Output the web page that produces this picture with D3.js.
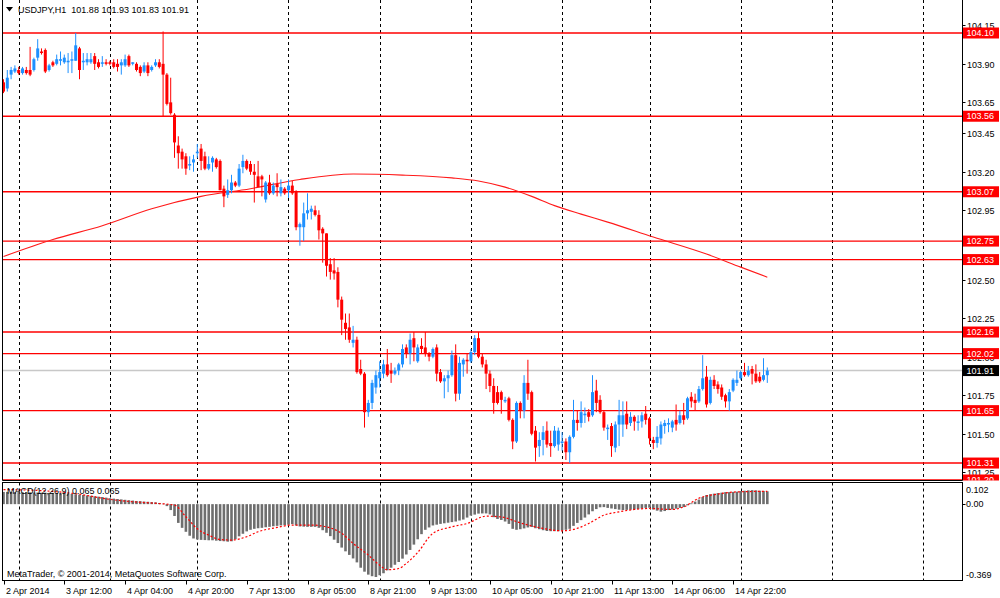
<!DOCTYPE html>
<html><head><meta charset="utf-8">
<script src="https://cdn.jsdelivr.net/npm/d3@7"></script>
<style>
body{margin:0;background:#fff}
svg{display:block}
text{font-family:"Liberation Sans",Arial,sans-serif;font-size:9px}
</style>
</head><body>
<svg id="c" width="1000" height="598"></svg>
<script>
// ---- data ----
const header = "USDJPY,H1  101.88 101.93 101.83 101.91";
const macdTitle = "MACD(12,26,9) 0.065 0.065";
const copyright = "MetaTrader, \u00A9 2001-2014, MetaQuotes Software Corp.";

// [open, high, low, close] per H1 bar
const candles = [
[103.78,103.80,103.71,103.72],[103.74,103.86,103.72,103.81],[103.83,103.88,103.80,103.86],[103.85,103.89,103.84,103.87],
[103.86,103.88,103.83,103.84],[103.84,103.88,103.83,103.87],[103.86,103.88,103.83,103.84],[103.86,104.01,103.82,103.83],
[103.86,103.94,103.85,103.93],[103.94,104.06,103.92,104.00],[103.98,104.00,103.96,103.97],[103.99,104.00,103.84,103.85],
[103.86,103.90,103.85,103.89],[103.91,103.92,103.88,103.89],[103.90,103.96,103.89,103.93],[103.92,103.98,103.89,103.93],
[103.91,103.96,103.90,103.94],[103.91,103.97,103.84,103.92],[103.92,103.98,103.84,103.93],[103.92,104.10,103.92,104.02],
[104.00,104.01,103.80,103.86],[103.91,103.97,103.86,103.92],[103.91,103.97,103.89,103.93],[103.91,103.97,103.90,103.93],
[103.95,103.97,103.86,103.90],[103.91,103.93,103.87,103.88],[103.90,103.95,103.88,103.91],[103.91,103.93,103.89,103.90],
[103.91,103.92,103.89,103.90],[103.91,103.93,103.87,103.88],[103.90,103.93,103.85,103.88],[103.89,103.93,103.83,103.91],
[103.89,103.96,103.88,103.93],[103.95,103.96,103.88,103.89],[103.90,103.91,103.89,103.91],[103.90,103.91,103.85,103.86],
[103.88,103.89,103.82,103.84],[103.85,103.91,103.84,103.89],[103.89,103.91,103.82,103.84],[103.86,103.89,103.85,103.88],
[103.89,103.93,103.88,103.91],[103.91,103.93,103.87,103.88],[103.90,104.11,103.56,103.83],[103.83,103.84,103.63,103.64],
[103.65,103.81,103.57,103.58],[103.57,103.58,103.29,103.39],[103.37,103.43,103.22,103.32],[103.33,103.35,103.22,103.28],
[103.30,103.32,103.18,103.22],[103.24,103.30,103.21,103.25],[103.26,103.31,103.20,103.28],[103.32,103.38,103.29,103.33],
[103.35,103.38,103.21,103.27],[103.30,103.33,103.21,103.22],[103.22,103.30,103.21,103.25],[103.26,103.30,103.20,103.29],
[103.28,103.29,103.22,103.23],[103.27,103.28,103.08,103.08],[103.09,103.11,102.97,103.04],[103.05,103.15,103.03,103.08],
[103.08,103.18,103.06,103.13],[103.13,103.14,103.10,103.11],[103.11,103.25,103.10,103.22],[103.23,103.31,103.19,103.27],
[103.27,103.28,103.21,103.22],[103.25,103.27,103.18,103.20],[103.20,103.25,103.00,103.18],[103.17,103.27,103.10,103.10],
[103.17,103.18,103.04,103.15],[103.02,103.14,103.00,103.13],[103.13,103.18,103.05,103.06],[103.06,103.13,103.05,103.11],
[103.12,103.19,103.04,103.10],[103.06,103.15,103.04,103.10],[103.09,103.10,103.05,103.06],[103.08,103.15,103.03,103.11],
[103.11,103.14,103.05,103.06],[103.07,103.08,102.82,102.84],[102.84,102.87,102.72,102.86],[102.84,103.00,102.75,102.93],
[102.93,103.06,102.89,102.95],[102.94,102.98,102.89,102.96],[102.95,102.98,102.91,102.92],[102.92,102.95,102.76,102.82],
[102.83,102.84,102.61,102.80],[102.80,102.80,102.52,102.59],[102.60,102.64,102.50,102.55],[102.56,102.64,102.50,102.54],
[102.55,102.58,102.32,102.37],[102.37,102.39,102.14,102.24],[102.22,102.28,102.11,102.18],[102.19,102.28,102.09,102.11],
[102.09,102.20,102.06,102.11],[102.11,102.13,101.89,101.90],[101.92,101.98,101.88,101.89],[101.89,101.90,101.54,101.64],
[101.64,101.72,101.61,101.70],[101.70,101.85,101.66,101.83],[101.80,101.91,101.76,101.88],[101.86,101.97,101.80,101.90],
[101.89,101.98,101.86,101.95],[101.95,102.05,101.87,101.88],[101.91,101.96,101.83,101.89],[101.89,101.93,101.88,101.91],
[101.91,101.96,101.88,101.95],[101.95,102.08,101.93,102.05],[102.06,102.08,101.99,102.02],[102.02,102.15,101.95,102.11],
[102.12,102.16,101.97,102.06],[101.97,102.08,101.96,102.06],[102.07,102.12,102.02,102.05],[102.06,102.16,102.00,102.02],
[102.02,102.03,101.97,102.00],[102.00,102.06,101.99,102.05],[102.06,102.08,101.84,101.89],[101.90,101.92,101.83,101.84],
[101.84,101.88,101.73,101.86],[101.86,101.91,101.77,101.88],[101.88,102.04,101.87,102.01],[102.01,102.08,101.71,101.76],
[101.76,102.00,101.72,101.96],[101.95,101.99,101.87,101.98],[101.98,102.02,101.89,101.97],[101.97,102.05,101.96,102.03],
[102.03,102.14,102.01,102.12],[102.12,102.16,101.99,102.00],[102.00,102.02,101.93,101.95],[101.95,101.98,101.79,101.89],
[101.89,101.91,101.77,101.81],[101.81,101.86,101.63,101.70],[101.77,101.81,101.69,101.70],[101.77,101.78,101.63,101.72],
[101.71,101.74,101.70,101.72],[101.73,101.74,101.58,101.59],[101.59,101.60,101.40,101.45],[101.45,101.71,101.44,101.70],
[101.70,101.71,101.60,101.65],[101.65,101.88,101.60,101.83],[101.83,101.98,101.72,101.76],[101.77,101.78,101.49,101.50],
[101.52,101.55,101.32,101.41],[101.42,101.51,101.35,101.46],[101.46,101.55,101.36,101.51],[101.52,101.58,101.41,101.43],
[101.44,101.52,101.35,101.42],[101.42,101.55,101.41,101.52],[101.43,101.54,101.39,101.52],[101.44,101.51,101.39,101.45],
[101.45,101.47,101.33,101.38],[101.38,101.49,101.31,101.48],[101.48,101.72,101.47,101.59],[101.59,101.65,101.52,101.57],
[101.57,101.71,101.54,101.64],[101.62,101.67,101.57,101.63],[101.64,101.66,101.58,101.61],[101.62,101.88,101.61,101.77],
[101.78,101.85,101.64,101.70],[101.72,101.75,101.63,101.64],[101.64,101.65,101.52,101.54],[101.53,101.56,101.46,101.54],
[101.55,101.57,101.35,101.42],[101.41,101.58,101.38,101.56],[101.56,101.72,101.42,101.62],[101.56,101.71,101.48,101.62],
[101.63,101.71,101.53,101.56],[101.57,101.64,101.55,101.61],[101.61,101.62,101.52,101.58],[101.57,101.62,101.52,101.58],
[101.58,101.64,101.54,101.62],[101.63,101.68,101.56,101.59],[101.60,101.61,101.43,101.47],[101.46,101.48,101.40,101.44],
[101.44,101.55,101.41,101.48],[101.47,101.58,101.43,101.56],[101.55,101.59,101.50,101.57],[101.56,101.60,101.51,101.57],
[101.54,101.59,101.51,101.58],[101.59,101.69,101.52,101.56],[101.57,101.65,101.56,101.62],[101.62,101.70,101.56,101.59],
[101.60,101.74,101.59,101.73],[101.74,101.77,101.67,101.71],[101.72,101.76,101.65,101.70],[101.71,101.81,101.70,101.79],
[101.79,102.01,101.78,101.86],[101.87,101.94,101.67,101.69],[101.70,101.87,101.69,101.85],[101.85,101.88,101.79,101.81],
[101.82,101.84,101.76,101.79],[101.80,101.82,101.72,101.74],[101.75,101.76,101.67,101.71],[101.71,101.79,101.65,101.77],
[101.78,101.86,101.77,101.85],[101.83,101.91,101.81,101.85],[101.86,101.91,101.85,101.90],[101.90,101.96,101.87,101.88],
[101.88,101.94,101.87,101.91],[101.92,101.94,101.82,101.89],[101.89,101.95,101.83,101.84],[101.87,101.90,101.83,101.84],
[101.85,101.99,101.84,101.88],[101.88,101.93,101.83,101.91]
];

// moving average readings [bar index, price]
const maPoints = [
[0,102.65],[13,102.76],[26,102.85],[39,102.96],[52,103.04],[65,103.09],[78,103.15],[92,103.185],
[105,103.178],[118,103.16],[125,103.14],[132,103.10],[139,103.04],[145,102.98],[152,102.925],
[159,102.873],[171,102.776],[185,102.666],[194,102.581],[201,102.516]
];

// MACD histogram, one value per bar
const macdHist = [
0.062,0.062,0.061,0.061,0.061,0.060,0.060,0.060,0.059,0.059,
0.058,0.058,0.057,0.057,0.056,0.055,0.055,0.054,0.052,0.050,
0.048,0.046,0.044,0.042,0.040,0.038,0.036,0.033,0.030,0.028,
0.026,0.024,0.022,0.020,0.018,0.016,0.015,0.013,0.012,0.010,
0.009,0.006,0.002,-0.010,-0.030,-0.060,-0.095,-0.120,-0.140,-0.160,
-0.174,-0.179,-0.181,-0.182,-0.183,-0.183,-0.185,-0.187,-0.188,-0.190,
-0.188,-0.178,-0.163,-0.150,-0.138,-0.130,-0.125,-0.122,-0.120,-0.117,
-0.115,-0.112,-0.110,-0.108,-0.106,-0.104,-0.101,-0.108,-0.113,-0.114,
-0.115,-0.115,-0.115,-0.120,-0.132,-0.145,-0.162,-0.180,-0.197,-0.220,
-0.239,-0.257,-0.275,-0.295,-0.322,-0.342,-0.357,-0.365,-0.369,-0.360,
-0.350,-0.335,-0.322,-0.307,-0.293,-0.276,-0.255,-0.232,-0.205,-0.178,
-0.152,-0.130,-0.118,-0.108,-0.104,-0.100,-0.097,-0.094,-0.091,-0.088,
-0.083,-0.078,-0.068,-0.058,-0.053,-0.048,-0.047,-0.047,-0.052,-0.066,
-0.075,-0.080,-0.088,-0.100,-0.125,-0.130,-0.127,-0.123,-0.118,-0.116,
-0.122,-0.127,-0.132,-0.136,-0.137,-0.137,-0.137,-0.133,-0.130,-0.125,
-0.110,-0.095,-0.081,-0.068,-0.052,-0.036,-0.025,-0.016,-0.015,-0.019,
-0.022,-0.025,-0.028,-0.030,-0.029,-0.028,-0.027,-0.025,-0.022,-0.019,
-0.018,-0.027,-0.033,-0.038,-0.035,-0.030,-0.027,-0.023,-0.019,-0.015,
-0.006,0.004,0.013,0.023,0.036,0.046,0.050,0.053,0.056,0.058,
0.061,0.061,0.062,0.063,0.066,0.068,0.070,0.071,0.070,0.068,
0.067,0.065
];

// MACD signal readings [bar index, value]
const macdSignal = [
[0,0.074],[12,0.066],[20,0.050],[28,0.024],[34,0.012],[41,0.003],[45,-0.005],[48,-0.064],
[51,-0.125],[54,-0.157],[57,-0.179],[60,-0.182],[64,-0.165],[67,-0.140],[72,-0.118],[76,-0.106],
[81,-0.106],[85,-0.115],[89,-0.148],[92,-0.199],[96,-0.258],[99,-0.309],[101,-0.332],[104,-0.326],
[106,-0.300],[109,-0.245],[113,-0.148],[118,-0.115],[122,-0.098],[127,-0.061],[131,-0.065],[136,-0.095],
[142,-0.123],[147,-0.135],[150,-0.128],[154,-0.098],[158,-0.056],[162,-0.039],[166,-0.027],[170,-0.022],
[176,-0.027],[179,-0.014],[183,0.030],[188,0.051],[193,0.062],[201,0.065]
];

const levels = [104.10,103.56,103.07,102.75,102.63,102.16,102.02,101.65,101.31,101.20];
const bidPrice = 101.91;
const priceTicks = [104.15,103.90,103.65,103.45,103.20,102.95,102.50,102.25,102.00,101.75,101.50,101.25];
const macdTicks = [0.102,0.00,-0.369];
const macdTickText = ["0.102","0.00","-0.369"];
const timeLabelBars = [0,16,32,48,64,80,96,112,128,144,160,176,192];
const timeLabelText = ["2 Apr 2014","3 Apr 12:00","4 Apr 04:00","4 Apr 20:00","7 Apr 13:00","8 Apr 05:00",
  "8 Apr 21:00","9 Apr 13:00","10 Apr 05:00","10 Apr 21:00","11 Apr 13:00","14 Apr 06:00","14 Apr 22:00"];
const dayStartBars = [4,28,51,75,99,123,147,170,194,218,242];

// ---- layout ----
const L = 2.5, R = 962.5;
const mainTop = 0, mainBot = 480.5, macdTop = 482.5, macdBot = 580.5;

const svg = d3.select("#c");
const x = d3.scaleLinear().domain([0, 252]).range([3.5, 3.5 + 3.8 * 252]);
const y = d3.scaleLinear().domain([101.20, 104.10]).range([480, 33]);
const ym = d3.scaleLinear().domain([-0.369, 0.102]).range([577, 484]);

const defs = svg.append("defs");
defs.append("clipPath").attr("id","mainClip").append("rect")
  .attr("x",L).attr("y",mainTop).attr("width",R-L).attr("height",mainBot-mainTop);
defs.append("clipPath").attr("id","macdClip").append("rect")
  .attr("x",L).attr("y",macdTop).attr("width",R-L).attr("height",macdBot-macdTop);
defs.append("clipPath").attr("id","axisClip").append("rect")
  .attr("x",R).attr("y",0).attr("width",1000-R).attr("height",mainBot);

// vertical dashed grid (day separators)
const grid = svg.append("g").attr("stroke","#000").attr("stroke-width",1).attr("stroke-dasharray","3,3");
dayStartBars.forEach(b => {
  const gx = Math.round(x(b)) + 0.5;
  grid.append("line").attr("x1",gx).attr("x2",gx).attr("y1",mainTop).attr("y2",mainBot);
  grid.append("line").attr("x1",gx).attr("x2",gx).attr("y1",macdTop).attr("y2",macdBot);
});

const main = svg.append("g").attr("clip-path","url(#mainClip)");

// bid line
main.append("line").attr("x1",L).attr("x2",R)
  .attr("y1",y(bidPrice)).attr("y2",y(bidPrice))
  .attr("stroke","#c8c8c8").attr("stroke-width",1.5);

// level lines
main.selectAll("line.lvl").data(levels).enter().append("line").attr("class","lvl")
  .attr("x1",L).attr("x2",R).attr("y1",d=>y(d)).attr("y2",d=>y(d))
  .attr("stroke","#ff0000").attr("stroke-width",1.4);

// moving average
main.append("path").datum(maPoints)
  .attr("d", d3.line().x(d=>x(d[0])).y(d=>y(d[1])).curve(d3.curveMonotoneX))
  .attr("fill","none").attr("stroke","#ff1a1a").attr("stroke-width",1.1);

// candles
const bull = "#1e90ff", bear = "#ff0000";
const cg = main.append("g");
candles.forEach((c,i) => {
  const [o,h,l,cl] = c;
  const col = cl >= o ? bull : bear;
  const cx = x(i);
  cg.append("line").attr("x1",cx).attr("x2",cx).attr("y1",y(h)).attr("y2",y(l))
    .attr("stroke",col).attr("stroke-width",1);
  const top = y(Math.max(o,cl)), bot = y(Math.min(o,cl));
  cg.append("rect").attr("x",cx-1.5).attr("width",3)
    .attr("y",top).attr("height",Math.max(1,bot-top)).attr("fill",col);
});

// header
svg.append("path").attr("d","M6,7 L13,7 L9.5,11.5 Z").attr("fill","#000");
svg.append("text").attr("x",18).attr("y",13).style("white-space","pre").attr("fill","#000").text(header);

// MACD panel
const mg = svg.append("g").attr("clip-path","url(#macdClip)");
mg.selectAll("rect.h").data(macdHist).enter().append("rect").attr("class","h")
  .attr("x",(d,i)=>x(i)-1.3).attr("width",2.6)
  .attr("y",d=>Math.min(ym(0),ym(d))).attr("height",d=>Math.abs(ym(d)-ym(0)))
  .attr("fill","#6e6e6e");
mg.append("path").datum(macdSignal)
  .attr("d", d3.line().x(d=>x(d[0])).y(d=>ym(d[1])).curve(d3.curveMonotoneX))
  .attr("fill","none").attr("stroke","#ff0000").attr("stroke-width",1.2).attr("stroke-dasharray","2,2");
svg.append("text").attr("x",7).attr("y",494).attr("fill","#000").text(macdTitle);
svg.append("text").attr("x",7).attr("y",577).attr("fill","#000").text(copyright);

// frames
const frame = svg.append("g").attr("fill","none").attr("stroke","#000").attr("stroke-width",1);
frame.append("path").attr("d",`M${L},${mainTop} V${mainBot} H${R} V${mainTop}`);
frame.append("rect").attr("x",L).attr("y",macdTop).attr("width",R-L).attr("height",macdBot-macdTop);

// right price axis
const ax = svg.append("g").attr("clip-path","url(#axisClip)");
priceTicks.forEach(p => {
  const py = Math.round(y(p)) + 0.5;
  ax.append("line").attr("x1",R).attr("x2",R+3).attr("y1",py).attr("y2",py).attr("stroke","#000");
  ax.append("text").attr("x",967).attr("y",py+3.2).attr("fill","#000").text(p.toFixed(2));
});
levels.forEach(p => {
  const py = y(p);
  ax.append("rect").attr("x",R+0.5).attr("y",py-5.5).attr("width",36).attr("height",11).attr("fill","#ff0000");
  ax.append("text").attr("x",966.5).attr("y",py+3.2).attr("fill","#fff").text(p.toFixed(2));
});
ax.append("rect").attr("x",R+0.5).attr("y",y(bidPrice)-5.5).attr("width",36).attr("height",11).attr("fill","#000");
ax.append("text").attr("x",966.5).attr("y",y(bidPrice)+3.2).attr("fill","#fff").text(bidPrice.toFixed(2));

// MACD axis
macdTicks.forEach((v,k) => {
  let ty = ym(v);
  if (k === 0) ty = 489.3;
  if (k === 2) ty = 574.7;
  if (k === 1) svg.append("line").attr("x1",R).attr("x2",R+3).attr("y1",Math.round(ty)+0.5).attr("y2",Math.round(ty)+0.5).attr("stroke","#000");
  svg.append("text").attr("x",966).attr("y",ty+3.2).attr("fill","#000").text(macdTickText[k]);
});

// time axis
timeLabelBars.forEach((b,k) => {
  const tx = Math.round(x(b)) + 0.5;
  svg.append("line").attr("x1",tx).attr("x2",tx).attr("y1",macdBot).attr("y2",macdBot+4).attr("stroke","#000");
  svg.append("text").attr("x",tx+1.5).attr("y",593.5).attr("fill","#000").text(timeLabelText[k]);
});
</script>
</body></html>
